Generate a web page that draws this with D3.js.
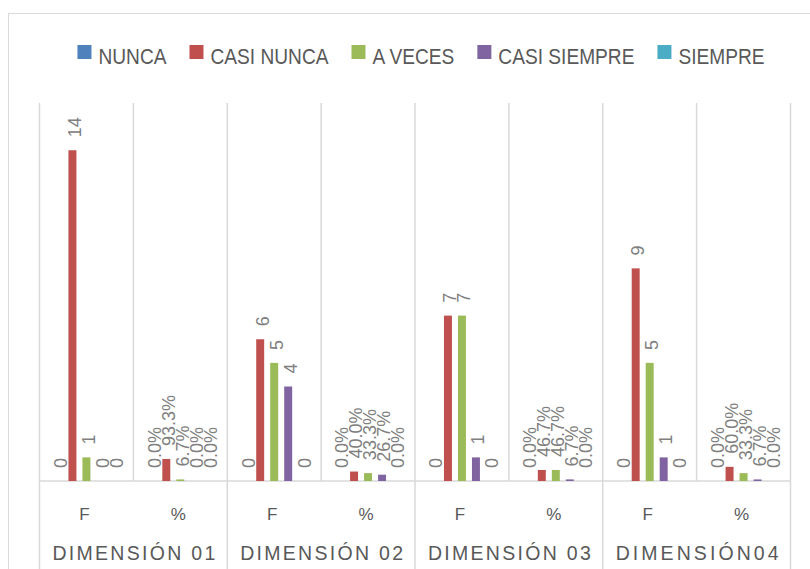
<!DOCTYPE html>
<html lang="es">
  <head>
    <meta charset="UTF-8" />
    <title>Dimensiones - F y %</title>
    <script src="https://cdn.jsdelivr.net/npm/d3@7"></script>
    <style>
      body {
        margin: 0;
        background-color: #fff;
        font-family: 'Liberation Sans', Arial, sans-serif;
      }
      svg {
        display: block;
      }
      .label {
        fill: #808080;
        font-size: 18px;
      }
      .legend text {
        fill: #595959;
        font-size: 22px;
      }
      .cat {
        fill: #595959;
        font-size: 17px;
      }
      .dim {
        fill: #595959;
        font-size: 19.5px;
      }
    </style>
  </head>
  <body>
    <svg width="810" height="569"></svg>

    <script>
      // categorias del eje X (dos niveles)
      const categories = ['F', '%', 'F', '%', 'F', '%', 'F', '%'];
      const dimensions = ['DIMENSIÓN 01', 'DIMENSIÓN 02', 'DIMENSIÓN 03', 'DIMENSIÓN04'];
      const series = ['NUNCA', 'CASI NUNCA', 'A VECES', 'CASI SIEMPRE', 'SIEMPRE'];
      const colors = ['#4F81BD', '#C0504D', '#9BBB59', '#8064A2', '#4BACC6'];

      // valores por serie (F = frecuencia, % = proporcion)
      const nunca = [0, 0, 0, 0, 0, 0, 0, 0];
      const casiNunca = [14, 0.933, 6, 0.4, 7, 0.467, 9, 0.6];
      const aVeces = [1, 0.067, 5, 0.333, 7, 0.467, 5, 0.333];
      const casiSiempre = [0, 0, 4, 0.267, 1, 0.067, 1, 0.067];
      const siempre = [0, 0, 0, 0, 0, 0, 0, 0];
      const values = [nunca, casiNunca, aVeces, casiSiempre, siempre];

      const svg = d3.select('svg');
      const width = +svg.attr('width');
      const height = +svg.attr('height');
      const margin = { top: 103, left: 39.5, right: 19.5, bottom: 88 };
      const baseY = height - margin.bottom;

      // borde del grafico
      svg
        .append('rect')
        .attr('x', 8.5)
        .attr('y', 13.5)
        .attr('width', width)
        .attr('height', height)
        .attr('fill', 'none')
        .attr('stroke', '#d9d9d9');

      const xScale = d3
        .scaleBand()
        .domain(d3.range(categories.length))
        .range([margin.left, width - margin.right]);
      const bw = xScale.bandwidth();

      const xInner = d3
        .scaleBand()
        .domain(series)
        .range([bw / 2 - 35, bw / 2 + 35])
        .paddingInner(0.43)
        .paddingOuter(0.215);

      const yScale = d3.scaleLinear().domain([0, 16]).range([baseY, margin.top]);

      // lineas verticales de separacion
      const grid = svg.append('g').attr('stroke', '#d9d9d9').attr('stroke-width', 1.5);
      d3.range(categories.length + 1).forEach((i) => {
        const x = margin.left + i * bw;
        grid
          .append('line')
          .attr('x1', x)
          .attr('x2', x)
          .attr('y1', margin.top)
          .attr('y2', i % 2 === 0 ? height : baseY);
      });
      grid
        .append('line')
        .attr('x1', margin.left)
        .attr('x2', width - margin.right)
        .attr('y1', baseY)
        .attr('y2', baseY);

      // barras
      const pts = [];
      series.forEach((s, si) => {
        values[si].forEach((v, ci) => {
          pts.push({ s, si, ci, v });
        });
      });

      svg
        .append('g')
        .selectAll('rect')
        .data(pts)
        .join('rect')
        .attr('x', (d) => xScale(d.ci) + xInner(d.s))
        .attr('y', (d) => yScale(d.v))
        .attr('width', xInner.bandwidth())
        .attr('height', (d) => baseY - yScale(d.v))
        .attr('fill', (d) => colors[d.si]);

      // etiquetas de datos
      const fmtPct = d3.format('.1%');
      svg
        .append('g')
        .selectAll('text')
        .data(pts)
        .join('text')
        .attr('class', 'label')
        .attr('transform', (d) => {
          const x = xScale(d.ci) + xInner(d.s) + xInner.bandwidth() / 2 + 2;
          const y = yScale(d.v) - 13;
          return `translate(${x},${y}) rotate(-90)`;
        })
        .attr('dy', '0.35em')
        .text((d) => (categories[d.ci] === '%' ? fmtPct(d.v) : d.v));

      // etiquetas del eje
      svg
        .append('g')
        .selectAll('text')
        .data(categories)
        .join('text')
        .attr('class', 'cat')
        .attr('x', (d, i) => xScale(i) + bw / 2 - 2)
        .attr('y', baseY + 39)
        .attr('text-anchor', 'middle')
        .text((d) => d);

      svg
        .append('g')
        .selectAll('text')
        .data(dimensions)
        .join('text')
        .attr('class', 'dim')
        .attr('x', (d, i) => xScale(i * 2) + bw - 81)
        .attr('y', baseY + 79)
        .attr('textLength', 163)
        .attr('lengthAdjust', 'spacing')
        .text((d) => d);

      // leyenda (texto algo estrecho, como en el original)
      const sx = 0.87;
      const legend = svg.append('g').attr('class', 'legend');
      let cx = 0;
      series.forEach((s, i) => {
        const item = legend.append('g').attr('transform', `translate(${cx},0)`);
        item
          .append('rect')
          .attr('x', 0)
          .attr('y', 45)
          .attr('width', 14)
          .attr('height', 14)
          .attr('fill', colors[i]);
        const t = item
          .append('text')
          .attr('transform', `translate(21,64) scale(${sx},1)`)
          .text(s);
        cx += 21 + t.node().getComputedTextLength() * sx + 23;
      });
      const legendW = cx - 23;
      legend.attr('transform', `translate(${421 - legendW / 2},0)`);
    </script>
  </body>
</html>
